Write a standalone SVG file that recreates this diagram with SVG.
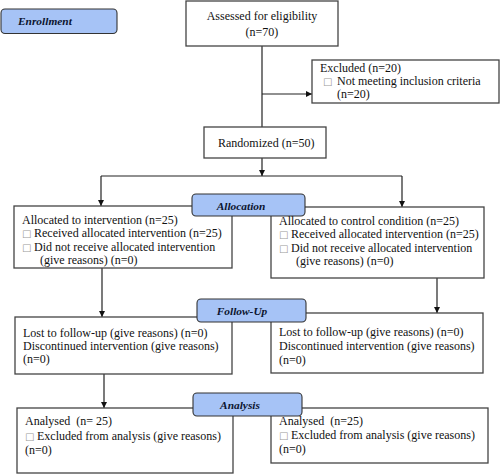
<svg xmlns="http://www.w3.org/2000/svg" width="500" height="474" viewBox="0 0 500 474">
<defs>
<style>
.box{fill:#fff;stroke:#444;stroke-width:1.3}
.lbl{fill:#a6c3f6;stroke:#333;stroke-width:1.1}
.t{font-family:"Liberation Serif","Times New Roman",serif;font-size:12px;fill:#111;white-space:pre}
.c{text-anchor:middle}
.h{font-family:"Liberation Serif","Times New Roman",serif;font-size:11.4px;font-weight:bold;font-style:italic;fill:#0c1530}
.bx{font-family:"DejaVu Sans",sans-serif;font-size:10px;fill:#999}
.ln{fill:none;stroke:#222;stroke-width:1.2}
</style>
<marker id="ah" viewBox="0 0 10 10" refX="10" refY="5" markerWidth="6" markerHeight="6" markerUnits="userSpaceOnUse" orient="auto">
<path d="M0,0 L10,5 L0,10 z" fill="#111"/>
</marker>
</defs>
<g id="connectors">
<path class="ln" d="M262,46 V127"/>
<path class="ln" d="M262,94 H312" marker-end="url(#ah)"/>
<path class="ln" d="M262,158 V176" marker-end="url(#ah)"/>
<path class="ln" d="M101,176 H402"/>
<path class="ln" d="M101,176 V206" marker-end="url(#ah)"/>
<path class="ln" d="M402,176 V207" marker-end="url(#ah)"/>
<path class="ln" d="M102,268 V317" marker-end="url(#ah)"/>
<path class="ln" d="M437,278 V313" marker-end="url(#ah)"/>
<path class="ln" d="M104,374 V408" marker-end="url(#ah)"/>
</g>
<g id="enrollment">
<rect class="lbl" x="1" y="9" width="116" height="24.5" rx="4"/>
<text class="h" x="18" y="25">Enrollment</text>
</g>
<g id="assessed">
<rect class="box" x="186" y="1" width="152" height="45"/>
<text class="t c" x="262" y="20">Assessed for eligibility</text>
<text class="t c" x="262" y="35.5">(n=70)</text>
</g>
<g id="excluded">
<rect class="box" x="312" y="60" width="187" height="43"/>
<text class="t" x="320" y="72">Excluded (n=20)</text>
<text class="bx" x="323" y="85">□</text>
<text class="t" x="337" y="85">Not meeting inclusion criteria</text>
<text class="t" x="337" y="98">(n=20)</text>
</g>
<g id="randomized">
<rect class="box" x="204" y="127" width="122" height="31"/>
<text class="t" x="218" y="146.5">Randomized (n=50)</text>
</g>
<g id="alloc-left">
<rect class="box" x="14" y="206" width="218" height="62"/>
<text class="t" x="22" y="223.5">Allocated to intervention (n=25)</text>
<text class="bx" x="22" y="237">□</text>
<text class="t" x="34" y="237">Received allocated intervention (n=25)</text>
<text class="bx" x="22" y="250.5">□</text>
<text class="t" x="34" y="250.5">Did not receive allocated intervention</text>
<text class="t" x="40" y="264">(give reasons) (n=0)</text>
</g>
<g id="alloc-right">
<rect class="box" x="271" y="207" width="213" height="71"/>
<text class="t" x="279" y="224.5">Allocated to control condition (n=25)</text>
<text class="bx" x="279" y="238">□</text>
<text class="t" x="291" y="238">Received allocated intervention (n=25)</text>
<text class="bx" x="279" y="251.5">□</text>
<text class="t" x="291" y="251.5">Did not receive allocated intervention</text>
<text class="t" x="296" y="265">(give reasons) (n=0)</text>
</g>
<g id="allocation">
<rect class="lbl" x="192" y="194" width="113" height="22" rx="4"/>
<text class="h c" x="241" y="209.5">Allocation</text>
</g>
<g id="follow-left">
<rect class="box" x="15" y="317" width="217" height="57"/>
<text class="t" x="23" y="337">Lost to follow-up (give reasons) (n=0)</text>
<text class="t" x="23" y="350">Discontinued intervention (give reasons)</text>
<text class="t" x="23" y="363">(n=0)</text>
</g>
<g id="follow-right">
<rect class="box" x="271" y="313" width="212" height="60"/>
<text class="t" x="279" y="336">Lost to follow-up (give reasons) (n=0)</text>
<text class="t" x="279" y="350">Discontinued intervention (give reasons)</text>
<text class="t" x="279" y="364">(n=0)</text>
</g>
<g id="followup">
<rect class="lbl" x="197" y="299" width="109" height="23" rx="4"/>
<text class="h c" x="242" y="314.5">Follow-Up</text>
</g>
<g id="analysis-left">
<rect class="box" x="17" y="408" width="216" height="65"/>
<text class="t" x="25" y="425">Analysed  (n= 25)</text>
<text class="bx" x="25" y="439.5">□</text>
<text class="t" x="37" y="439.5">Excluded from analysis (give reasons)</text>
<text class="t" x="25" y="454">(n=0)</text>
</g>
<g id="analysis-right">
<rect class="box" x="271" y="408" width="217" height="55"/>
<text class="t" x="279" y="425">Analysed  (n=25)</text>
<text class="bx" x="279" y="439">□</text>
<text class="t" x="291" y="439">Excluded from analysis (give reasons)</text>
<text class="t" x="279" y="453">(n=0)</text>
</g>
<g id="analysis">
<rect class="lbl" x="193" y="393" width="109" height="23" rx="4"/>
<text class="h c" x="240" y="408.5">Analysis</text>
</g>
</svg>
